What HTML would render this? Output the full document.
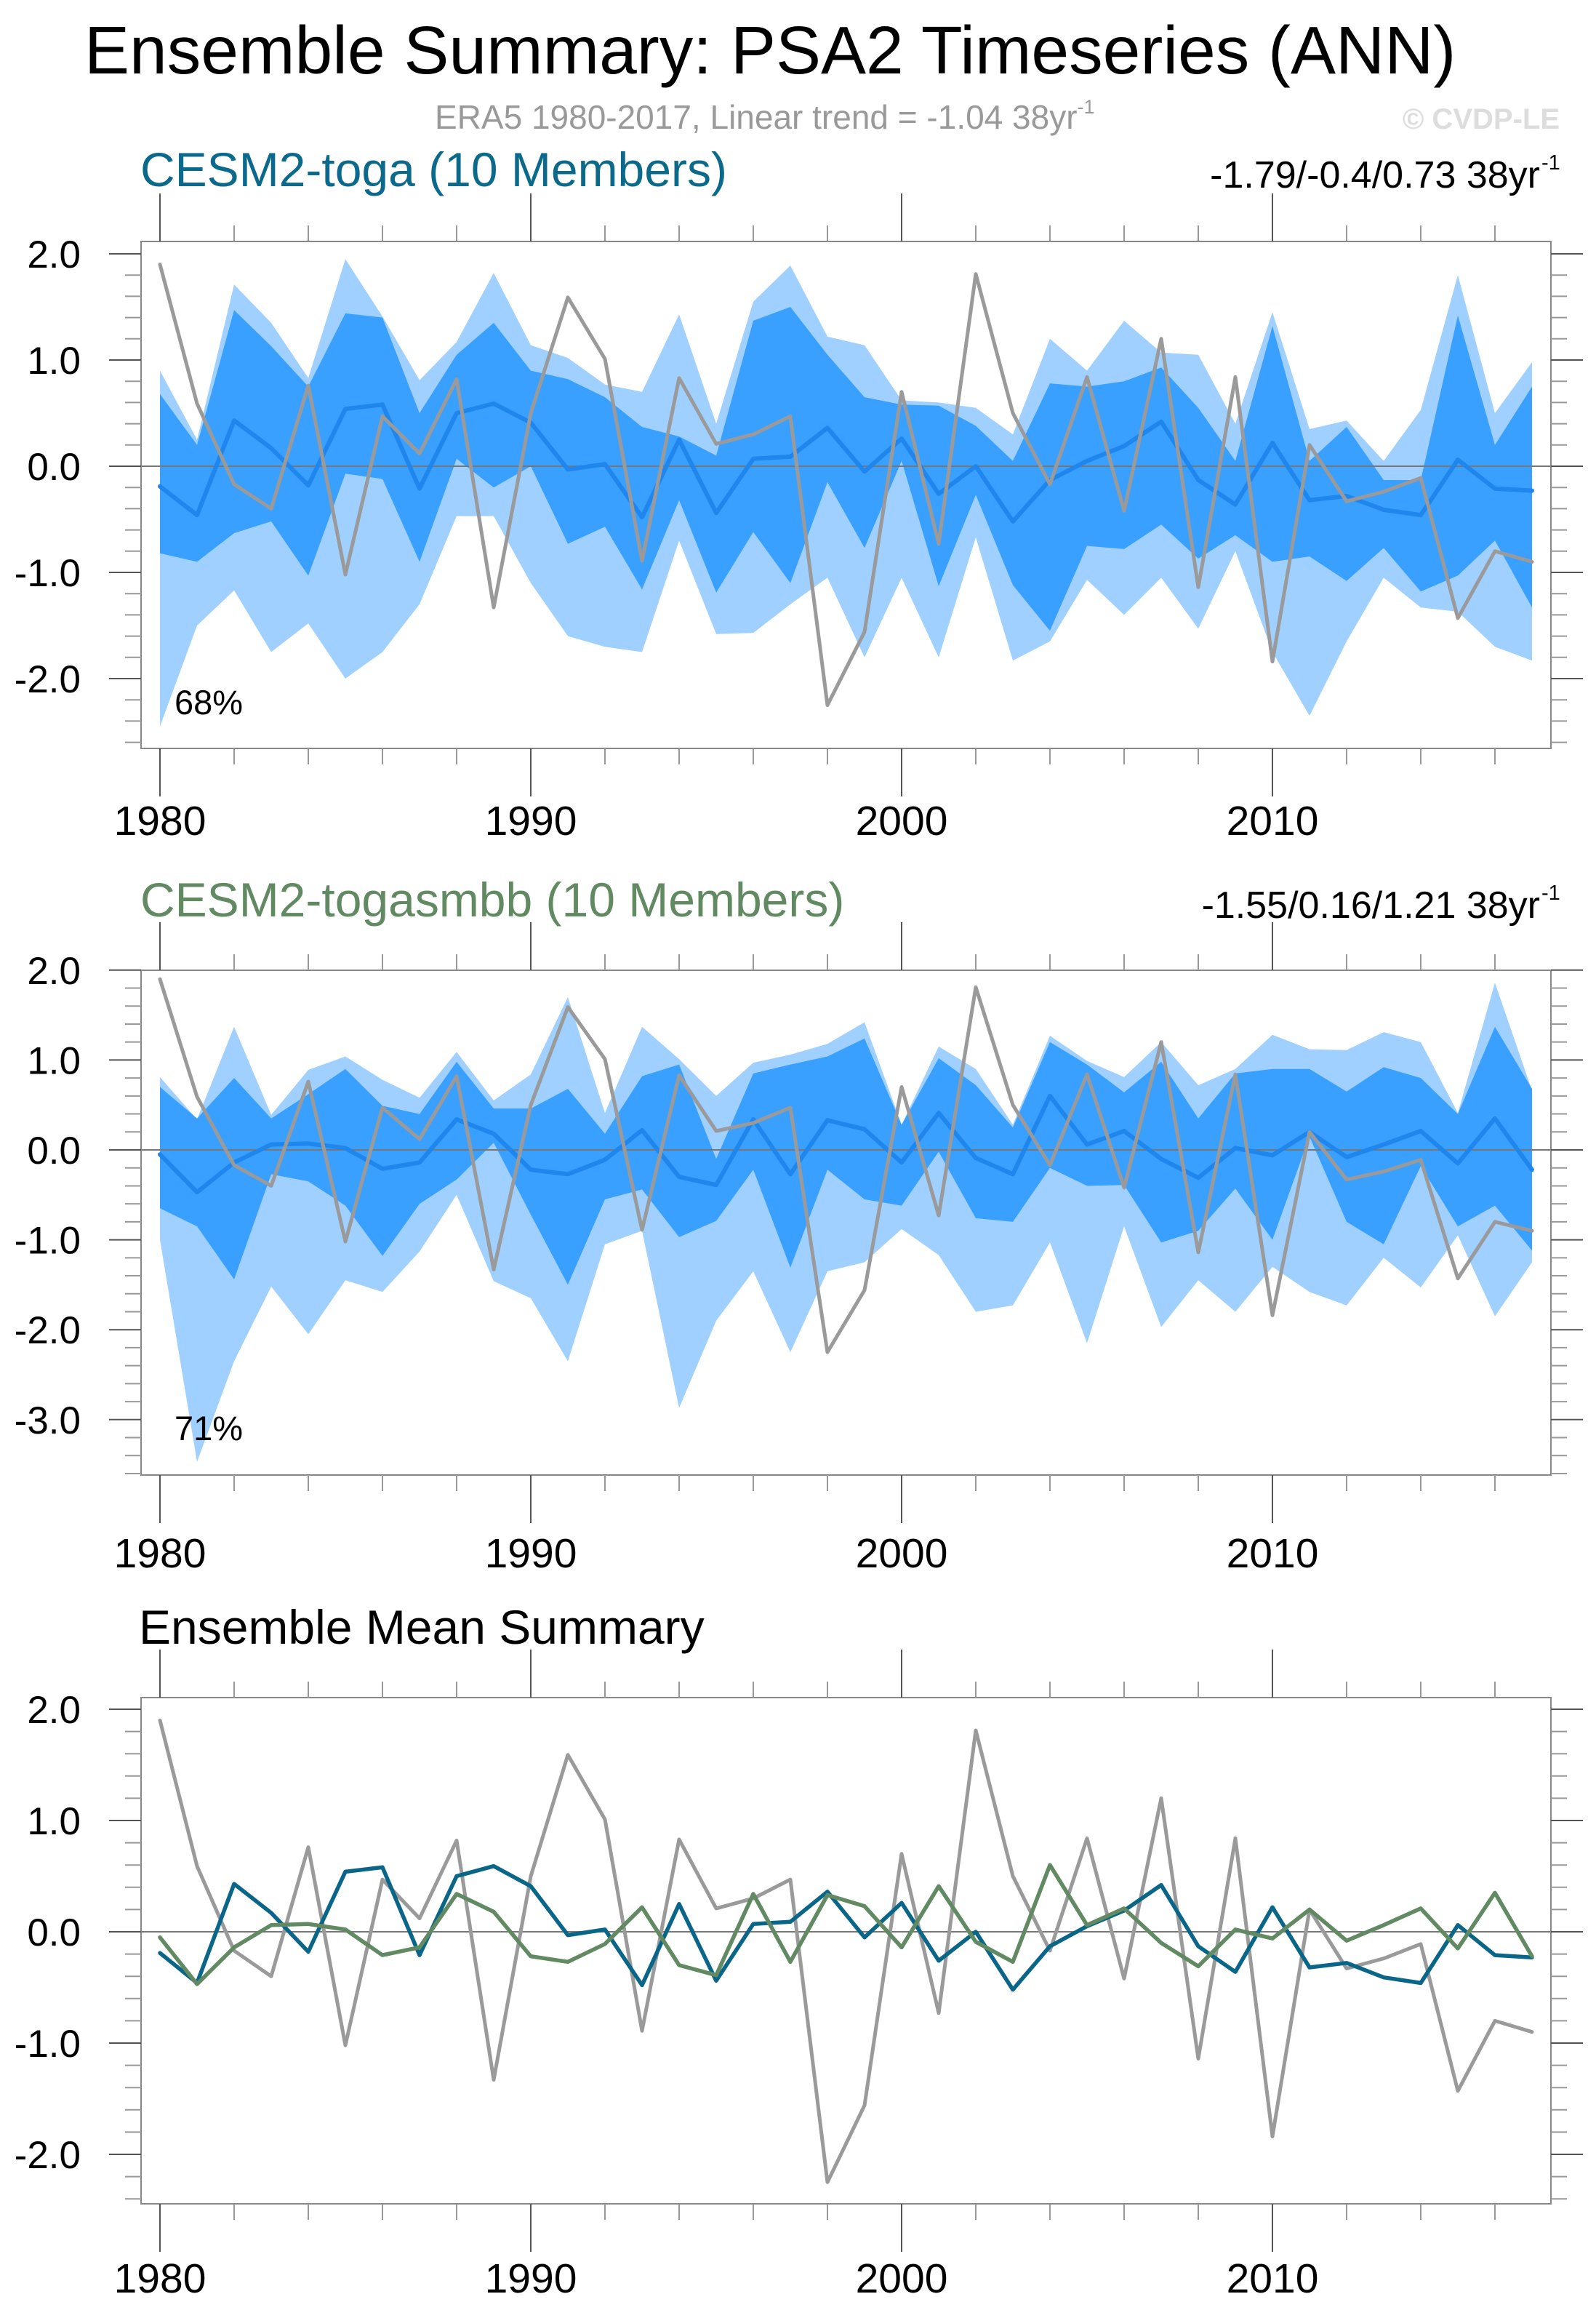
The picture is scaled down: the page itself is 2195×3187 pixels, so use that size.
<!DOCTYPE html>
<html><head><meta charset="utf-8">
<style>
html,body{margin:0;padding:0;background:#fff;}
svg{display:block;font-family:"Liberation Sans",sans-serif;}
</style></head>
<body>
<svg id="chart" width="2195" height="3187" viewBox="0 0 2195 3187" xmlns="http://www.w3.org/2000/svg">
<text x="116" y="101" font-size="93" fill="#000">Ensemble Summary: PSA2 Timeseries (ANN)</text>
<text x="598" y="177" font-size="46" fill="#999">ERA5 1980-2017, Linear trend = -1.04 38yr<tspan font-size="27" dy="-21">-1</tspan></text>
<text x="2145" y="177" font-size="40" font-weight="bold" fill="#ddd" text-anchor="end">© CVDP-LE</text>
<text x="193" y="256" font-size="66" fill="#0b6a8c">CESM2-toga (10 Members)</text>
<text x="2118" y="258" font-size="52" fill="#000" text-anchor="end">-1.79/-0.4/0.73 38yr</text>
<text x="2120" y="233" font-size="29" fill="#000">-1</text>
<text x="193" y="1260" font-size="66" fill="#628a62">CESM2-togasmbb (10 Members)</text>
<text x="2118" y="1262" font-size="52" fill="#000" text-anchor="end">-1.55/0.16/1.21 38yr</text>
<text x="2120" y="1237" font-size="29" fill="#000">-1</text>
<text x="191" y="2260" font-size="66" fill="#000">Ensemble Mean Summary</text>
<g id="plots"></g>
</svg>
<script>
const years = [];
for (let y = 1980; y <= 2017; y++) years.push(y);
const era5 = [1.90,0.59,-0.17,-0.40,0.76,-1.02,0.47,0.12,0.82,-1.33,0.50,1.59,1.01,-0.89,0.83,0.21,0.30,0.47,-2.25,-1.56,0.70,-0.73,1.81,0.50,-0.17,0.84,-0.42,1.20,-1.14,0.84,-1.84,0.20,-0.33,-0.24,-0.11,-1.43,-0.80,-0.90];
const togaMean = [-0.19,-0.46,0.43,0.17,-0.18,0.54,0.58,-0.21,0.50,0.59,0.41,-0.03,0.02,-0.48,0.25,-0.44,0.07,0.09,0.36,-0.05,0.26,-0.26,0.0,-0.52,-0.13,0.05,0.19,0.42,-0.13,-0.36,0.22,-0.32,-0.28,-0.41,-0.46,0.06,-0.21,-0.23];
const smbbMean = [-0.05,-0.47,-0.14,0.06,0.07,0.02,-0.21,-0.14,0.34,0.18,-0.22,-0.27,-0.11,0.22,-0.30,-0.39,0.34,-0.27,0.33,0.23,-0.14,0.41,-0.09,-0.27,0.60,0.06,0.21,-0.10,-0.31,0.02,-0.06,0.20,-0.08,0.06,0.21,-0.15,0.35,-0.22];
const togaMax = [0.90,0.25,1.71,1.35,0.83,1.95,1.41,0.81,1.17,1.82,1.14,1.02,0.77,0.70,1.43,0.40,1.55,1.89,1.22,1.14,0.62,0.60,0.55,0.30,1.20,0.90,1.37,1.07,1.05,0.40,1.45,0.35,0.43,0.05,0.53,1.80,0.50,0.98];
const togaHi = [0.68,0.20,1.47,1.13,0.75,1.44,1.40,0.50,1.05,1.35,0.90,0.82,0.65,0.37,0.28,0.10,1.37,1.50,1.05,0.65,0.58,0.57,0.38,0.05,0.78,0.75,0.80,0.93,0.55,0.05,1.32,0.05,0.37,-0.13,-0.13,1.42,0.20,0.75];
const togaLo = [-0.82,-0.90,-0.63,-0.52,-1.03,-0.07,-0.12,-0.90,0.07,-0.20,0.0,-0.73,-0.57,-1.16,-0.32,-1.19,-0.62,-1.10,-0.15,-0.77,0.05,-1.13,-0.27,-1.12,-1.55,-0.75,-0.78,-0.55,-0.87,-0.65,-0.90,-0.85,-1.08,-0.77,-1.18,-1.03,-0.70,-1.33];
const togaMin = [-2.45,-1.50,-1.17,-1.75,-1.48,-2.00,-1.75,-1.30,-0.47,-0.47,-1.10,-1.60,-1.70,-1.75,-0.70,-1.58,-1.57,-1.30,-1.05,-1.80,-1.05,-1.80,-0.67,-1.83,-1.65,-1.07,-1.40,-1.05,-1.53,-0.80,-1.75,-2.35,-1.65,-1.05,-1.33,-1.37,-1.70,-1.83];
const smbbMax = [0.81,0.34,1.37,0.39,0.89,1.04,0.78,0.58,1.09,0.55,0.84,1.70,0.41,1.37,1.01,0.60,0.97,1.06,1.18,1.42,0.28,1.15,0.90,0.28,1.27,0.99,0.81,1.20,0.72,0.90,1.28,1.12,1.11,1.31,1.20,0.41,1.86,0.66];
const smbbHi = [0.70,0.35,0.80,0.35,0.62,0.90,0.49,0.40,0.98,0.46,0.46,0.68,0.18,0.82,0.95,-0.10,0.85,0.95,1.04,1.24,0.28,1.02,0.72,0.25,1.20,0.95,0.64,0.98,0.35,0.85,0.90,0.90,0.65,0.92,0.80,0.40,1.37,0.68];
const smbbLo = [-0.65,-0.85,-1.44,-0.27,-0.35,-0.62,-1.18,-0.60,-0.33,0.08,-0.72,-1.50,-0.55,-0.44,-0.97,-0.79,-0.22,-1.31,-0.22,-0.55,-0.62,-0.02,-0.76,-0.80,-0.20,-0.40,-0.39,-1.03,-0.90,-0.43,-1.00,0.15,-0.80,-1.05,-0.18,-0.85,-0.62,-1.12];
const smbbMin = [-1.00,-3.47,-2.35,-1.52,-2.05,-1.45,-1.58,-1.13,-0.50,-1.46,-1.65,-2.35,-1.05,-0.90,-2.87,-1.90,-1.35,-2.25,-1.35,-1.25,-0.88,-1.17,-1.80,-1.73,-1.03,-2.15,-0.85,-1.97,-1.45,-1.80,-1.30,-1.58,-1.73,-1.20,-1.53,-0.95,-1.85,-1.25];
const yTicks1 = [2.0,1.0,0.0,-1.0,-2.0];
const yTicks2 = [2.0,1.0,0.0,-1.0,-2.0,-3.0];
const yTicks3 = [2.0,1.0,0.0,-1.0,-2.0];
const xLabels = [1980,1990,2000,2010];

const NS = "http://www.w3.org/2000/svg";
const root = document.getElementById('plots');
const FX0 = 194, FX1 = 2133;
function xs(yr){ return 220 + (yr - 1980) * 51.0; }
function mk(tag, attrs, parent){
  const e = document.createElementNS(NS, tag);
  for (const k in attrs) e.setAttribute(k, attrs[k]);
  (parent || root).appendChild(e);
  return e;
}
function panel(id, top, bot, y0, unit, yTicks, vmin, vmax, labelY){
  const g = mk('g', {});
  
  
  const ys = v => y0 - v * unit;
  return {g, ys, top, bot, y0, unit, yTicks, vmin, vmax, labelY, id};
}
function band(p, lo, hi, color, name){
  let d = '';
  years.forEach((yr,i)=>{ d += (i? 'L':'M') + xs(yr).toFixed(1) + ',' + p.ys(hi[i]).toFixed(1); });
  for (let i = years.length-1; i >= 0; i--) d += 'L' + xs(years[i]).toFixed(1) + ',' + p.ys(lo[i]).toFixed(1);
  const e = mk('path', {d: d + 'Z', fill: color}, p.g);
  
  
}
function line(p, vals, color, w, name){
  const pts = years.map((yr,i)=> xs(yr).toFixed(1) + ',' + p.ys(vals[i]).toFixed(1)).join(' ');
  const e = mk('polyline', {points: pts, fill: 'none', stroke: color, 'stroke-width': w, 'stroke-linejoin': 'round', 'stroke-linecap': 'round'}, p.g);
  
  
}
function axes(p){
  const a = mk('g', {stroke: '#666', 'stroke-width': 2}, p.g);
  
  
  const z = mk('line', {x1: FX0, x2: FX1, y1: p.y0, y2: p.y0, stroke: '#777', 'stroke-width': 2}, a);
  
  
  const fr = mk('rect', {x: FX0, y: p.top, width: FX1-FX0, height: p.bot-p.top, fill: 'none', stroke: '#888', 'stroke-width': 2}, a);
  
  
  years.forEach(yr => {
    if ((yr - 1980) % 2) return;
    const maj = (yr % 10 === 0);
    const len = maj ? 66 : 22;
    const c = maj ? '#555' : '#999';
    mk('line', {x1: xs(yr), x2: xs(yr), y1: p.top, y2: p.top - len, stroke: c}, a);
    mk('line', {x1: xs(yr), x2: xs(yr), y1: p.bot, y2: p.bot + len, stroke: c}, a);
  });
  for (let v = Math.ceil(p.vmin*5)/5; v <= p.vmax + 1e-6; v += 0.2) {
    const yy = p.ys(v);
    if (yy < p.top - 1 || yy > p.bot + 1) continue;
    const isMaj = Math.abs(v - Math.round(v)) < 1e-6;
    const len = isMaj ? 44 : 22;
    const c = isMaj ? '#555' : '#999';
    mk('line', {x1: FX0, x2: FX0 - len, y1: yy, y2: yy, stroke: c}, a);
    mk('line', {x1: FX1, x2: FX1 + len, y1: yy, y2: yy, stroke: c}, a);
  }
  p.yTicks.forEach(v => {
    const t = mk('text', {x: 111, y: p.ys(v) + 19, 'font-size': 53, 'text-anchor': 'end', fill: '#000', stroke: 'none'}, p.g);
    t.textContent = v.toFixed(1);
    
    
  });
  xLabels.forEach(yr => {
    const t = mk('text', {x: xs(yr), y: p.labelY, 'font-size': 57, 'text-anchor': 'middle', fill: '#000'}, p.g);
    t.textContent = yr;
    
    
  });
}
function pct(p, txt, y){
  const t = mk('text', {x: 240, y: y, 'font-size': 47, fill: '#000'}, p.g);
  t.textContent = txt;
  
  
}

const LIGHT = '#9fd0ff', DARK = '#39a0ff', MEANC = '#1e86ec', GRAY = '#9a9a9a';
const p1 = panel('panel1', 332, 1029, 641, 146, yTicks1, -2.6, 2.1, 1148);
band(p1, togaMin, togaMax, LIGHT, 'toga-range-band');
band(p1, togaLo, togaHi, DARK, 'toga-spread-band');
axes(p1);
line(p1, togaMean, MEANC, 6, 'toga-ensemble-mean-line');
line(p1, era5, GRAY, 5, 'era5-line');
pct(p1, '68%', 982);
const p2 = panel('panel2', 1334, 2028, 1581, 123.6, yTicks2, -3.6, 2.0, 2155);
band(p2, smbbMin, smbbMax, LIGHT, 'smbb-range-band');
band(p2, smbbLo, smbbHi, DARK, 'smbb-spread-band');
axes(p2);
line(p2, smbbMean, MEANC, 6, 'smbb-ensemble-mean-line');
line(p2, era5, GRAY, 5, 'era5-line');
pct(p2, '71%', 1980);
const p3 = panel('panel3', 2334, 3030, 2656, 153, yTicks3, -2.4, 2.1, 3152);
axes(p3);
line(p3, era5, GRAY, 5, 'era5-line');
line(p3, togaMean, '#0a6688', 5.5, 'toga-mean-line');
line(p3, smbbMean, '#628a62', 5.5, 'smbb-mean-line');
</script>
</body></html>
